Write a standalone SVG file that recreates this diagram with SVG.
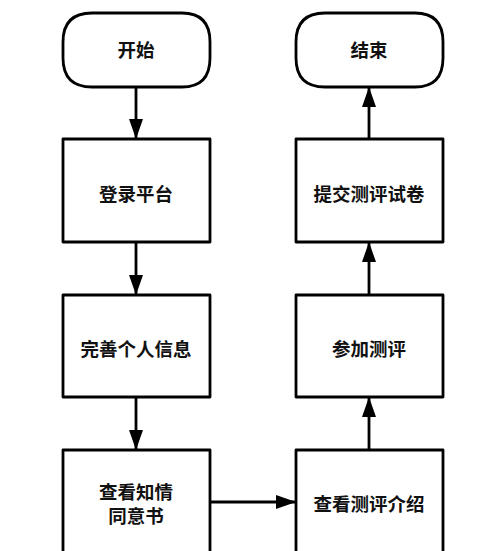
<svg xmlns="http://www.w3.org/2000/svg" width="500" height="551" viewBox="0 0 500 551">
  <defs>
    <marker id="ah" viewBox="0 0 20 14" refX="20" refY="7" markerWidth="20" markerHeight="14" markerUnits="userSpaceOnUse" orient="auto">
      <path d="M0,0 L20,7 L0,14 Z" fill="#000"/>
    </marker>
  </defs>
  <style>
    .shape { fill: #fff; stroke: #000; stroke-width: 2.8; stroke-linejoin: round; }
    .edge { fill: none; stroke: #000; stroke-width: 2.8; marker-end: url(#ah); }
    text { font-family: "Noto Sans CJK SC", "Noto Sans", sans-serif; font-size: 18.5px; font-weight: 700; fill: #111; text-anchor: middle; dominant-baseline: central; }
  </style>
  <rect width="500" height="551" fill="#fff"/>
  <g id="start">
    <path class="shape" d="M92,13 L182,13 Q210,13 210,42 L210,58 Q210,87 182,87 L92,87 Q63,87 63,58 L63,42 Q63,13 92,13 Z"/>
    <text x="136" y="49">开始</text>
  </g>
  <g id="login">
    <rect class="shape" x="63" y="139" width="147" height="103"/>
    <text x="136" y="193">登录平台</text>
  </g>
  <g id="profile">
    <rect class="shape" x="63" y="295" width="147" height="102"/>
    <text x="136" y="348">完善个人信息</text>
  </g>
  <g id="consent">
    <rect class="shape" x="63" y="450" width="147" height="110"/>
    <text x="136" y="491">查看知情</text>
    <text x="136" y="515">同意书</text>
  </g>
  <g id="intro">
    <rect class="shape" x="296" y="450" width="147" height="110"/>
    <text x="369" y="503">查看测评介绍</text>
  </g>
  <g id="test">
    <rect class="shape" x="296" y="295" width="147" height="102"/>
    <text x="369" y="348">参加测评</text>
  </g>
  <g id="submit">
    <rect class="shape" x="296" y="139" width="147" height="103"/>
    <text x="369" y="193">提交测评试卷</text>
  </g>
  <g id="end">
    <path class="shape" d="M325,13 L415,13 Q443,13 443,42 L443,58 Q443,87 415,87 L325,87 Q296,87 296,58 L296,42 Q296,13 325,13 Z"/>
    <text x="369" y="49">结束</text>
  </g>
  <g id="connectors">
    <path class="edge" d="M136,87 L136,139"/>
    <path class="edge" d="M136,242 L136,295"/>
    <path class="edge" d="M136,397 L136,450"/>
    <path class="edge" d="M210,502 L296,502"/>
    <path class="edge" d="M369,450 L369,397"/>
    <path class="edge" d="M369,295 L369,242"/>
    <path class="edge" d="M369,139 L369,87"/>
  </g>
</svg>
